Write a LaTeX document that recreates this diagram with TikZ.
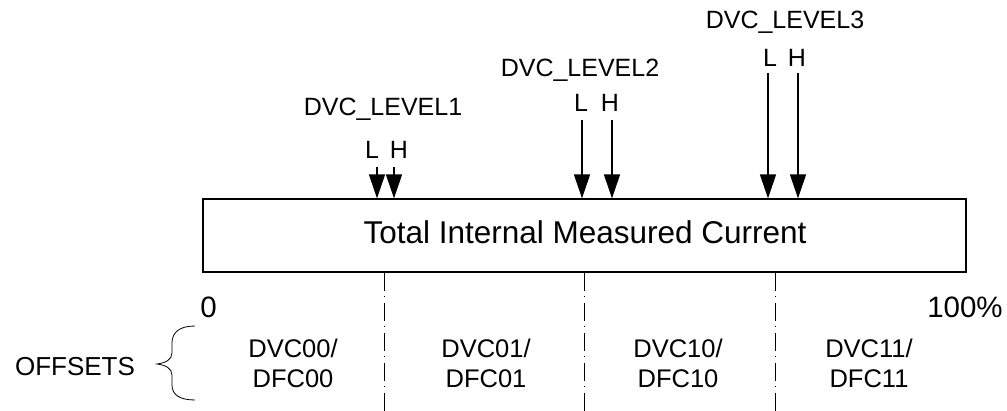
\documentclass[tikz,border=0pt]{standalone}
\usepackage{fontspec}
\setmainfont{Liberation Sans}
\usetikzlibrary{arrows.meta}
\begin{document}
\begin{tikzpicture}[x=1pt,y=-1pt,
  lbl/.style={inner sep=0pt,anchor=base,font=\fontsize{25}{30}\selectfont},
  bigtxt/.style={inner sep=0pt,anchor=base,font=\fontsize{29.5}{34}\selectfont},
  seg/.style={inner sep=0pt,align=center,font=\fontsize{25.5}{30}\selectfont},
  arr/.style={line width=1.4pt,-{Triangle[length=24pt,width=16pt]}},
  divider/.style={line width=1pt,dash pattern=on 18pt off 5pt on 1.5pt off 5.5pt}]
\useasboundingbox (0,0) rectangle (1007,411);

% measured-current bar
\node[draw,line width=1.2pt,minimum width=763pt,minimum height=73pt,inner sep=0pt] (box) at (584.5,235.5) {};
\node[inner sep=0pt,anchor=base,font=\fontsize{31.5}{36}\selectfont] (title) at (585,244) {Total Internal Measured Current};

% threshold labels
\node[lbl] (lev1) at (383,116) {DVC\_LEVEL1};
\node[lbl] (L1) at (372,159) {L};
\node[lbl] (H1) at (399,159) {H};
\node[lbl] (lev2) at (580,77) {DVC\_LEVEL2};
\node[lbl] (L2) at (581,112) {L};
\node[lbl] (H2) at (610,112) {H};
\node[lbl] (lev3) at (785,29) {DVC\_LEVEL3};
\node[lbl] (L3) at (770,67) {L};
\node[lbl] (H3) at (797,67) {H};

% arrow starting points
\coordinate (a1L) at (377,167);
\coordinate (a1H) at (394,167);
\coordinate (a2L) at (582,120);
\coordinate (a2H) at (612,120);
\coordinate (a3L) at (768,73);
\coordinate (a3H) at (798,73);
\foreach \a in {a1L,a1H,a2L,a2H,a3L,a3H}
  \draw[arr] (\a) -- (\a |- box.north);

% region dividers
\coordinate (d1) at (384,411);
\coordinate (d2) at (584,411);
\coordinate (d3) at (775,411);
\foreach \d in {d1,d2,d3}
  \draw[divider] (\d |- box.south) -- (\d);

% scale ends
\node[bigtxt] (zero) at (208.5,318) {0};
\node[bigtxt] (full) at (965,318) {100\%};

% offset regions
\node[seg] (r0) at (293,363) {DVC00/\\DFC00};
\node[seg] (r1) at (486,363) {DVC01/\\DFC01};
\node[seg] (r2) at (678,363) {DVC10/\\DFC10};
\node[seg] (r3) at (869,363) {DVC11/\\DFC11};

% offsets brace
\node[inner sep=0pt,font=\fontsize{26}{30}\selectfont] (offs) at (75,367) {OFFSETS};
\draw[line width=0.8pt] (195,326) .. controls (180,326) and (172,332) .. (172,343)
  -- (172,353) .. controls (172,360) and (165,363) .. (157,364)
  .. controls (165,365) and (172,368) .. (172,375)
  -- (172,385) .. controls (172,395) and (180,400) .. (195,400);
\end{tikzpicture}
\end{document}
